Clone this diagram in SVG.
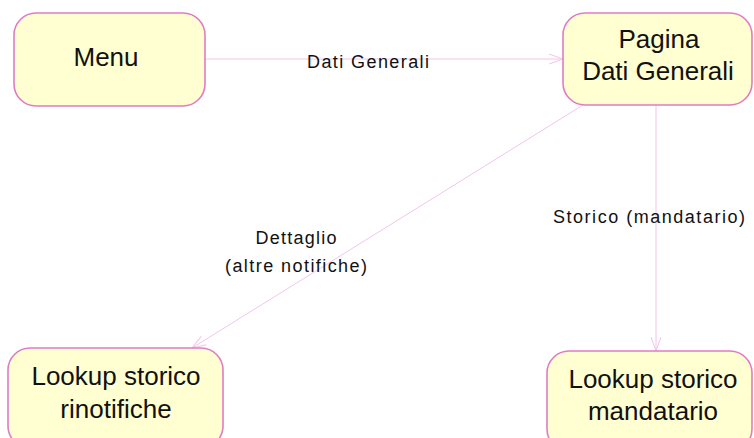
<svg xmlns="http://www.w3.org/2000/svg" width="754" height="438" viewBox="0 0 754 438">
<style>
.node{fill:#ffffd2;stroke:#e07cc4;stroke-width:1.6}
.nt{font-family:"Liberation Sans",Arial,sans-serif;font-size:26px;fill:#111;text-anchor:middle}
.lt{font-family:"Liberation Sans",Arial,sans-serif;font-size:18px;fill:#111;text-anchor:middle}
.edge{fill:none;stroke:#f4c4ea;stroke-width:1}
</style>
<defs>
<marker id="arr" viewBox="0 0 16 12" refX="15" refY="6" markerWidth="16" markerHeight="12" markerUnits="userSpaceOnUse" orient="auto">
<path d="M1,1 L15,6 L1,11" fill="none" stroke="#f4c4ea" stroke-width="1"/>
</marker>
</defs>
<rect width="754" height="438" fill="#ffffff"/>
<g id="connectors">
<line class="edge" x1="205" y1="59" x2="563" y2="59" marker-end="url(#arr)"/>
<line class="edge" x1="656" y1="105" x2="656" y2="351" marker-end="url(#arr)"/>
<line class="edge" x1="583" y1="105" x2="192" y2="348" marker-end="url(#arr)"/>
<text class="lt" x="368" y="68" textLength="122">Dati Generali</text>
<text class="lt" x="649" y="223" textLength="192">Storico (mandatario)</text>
<text class="lt" x="296" y="244" textLength="81">Dettaglio</text>
<text class="lt" x="296" y="272" textLength="142">(altre notifiche)</text>
</g>
<g id="menu">
<rect class="node" x="14" y="13" width="191" height="93" rx="22"/>
<text class="nt" x="106" y="66">Menu</text>
</g>
<g id="pagina">
<rect class="node" x="563" y="13" width="189" height="92" rx="22"/>
<text class="nt" x="659" y="48">Pagina</text>
<text class="nt" x="658" y="80">Dati Generali</text>
</g>
<g id="rinotifiche">
<rect class="node" x="8" y="348" width="215" height="100" rx="22"/>
<text class="nt" x="116" y="385">Lookup storico</text>
<text class="nt" x="116" y="418">rinotifiche</text>
</g>
<g id="mandatario">
<rect class="node" x="547" y="351" width="205" height="100" rx="22"/>
<text class="nt" x="653" y="388">Lookup storico</text>
<text class="nt" x="653" y="420">mandatario</text>
</g>
</svg>
